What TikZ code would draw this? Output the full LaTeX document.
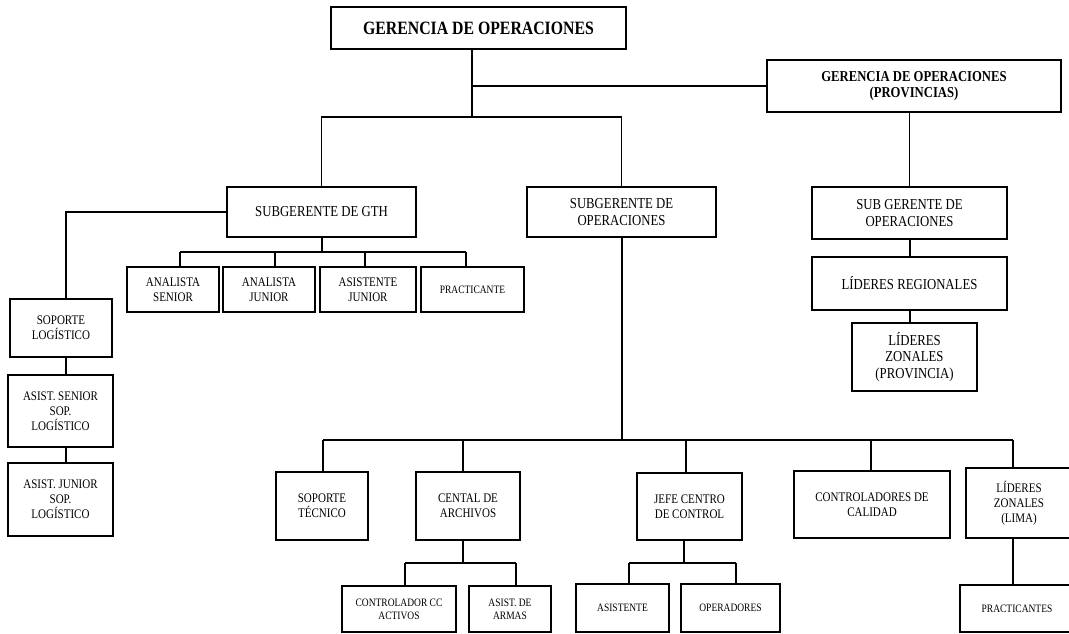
\documentclass[tikz,border=0pt]{standalone}
\usepackage{fontspec}
\setmainfont{Liberation Serif}[FakeStretch=0.84]
\begin{document}
\begin{tikzpicture}[x=1pt, y=-1pt,
  box/.style={draw, line width=1.3pt, align=center, inner sep=1pt},
  fsm/.style={font=\fontsize{11.3}{12.7}\selectfont},
  fmd/.style={font=\fontsize{13.1}{15}\selectfont},
  flg/.style={font=\fontsize{15.2}{16.7}\selectfont},
  fbd/.style={font=\bfseries\fontsize{15.1}{16.7}\selectfont},
  ftitle/.style={font=\bfseries\fontsize{18.8}{21}\selectfont},
  conn/.style={line width=1.1pt},
  trunk/.style={line width=2pt}]
\useasboundingbox (0,0) rectangle (1069,633);
\fill[white] (0,0) rectangle (1069,633);

% top management
\node[box, ftitle, minimum width=295pt, minimum height=42pt] (gop) at (478.5,28) {GERENCIA DE OPERACIONES};
\node[box, fbd, minimum width=294pt, minimum height=52pt] (gopp) at (914,86) {GERENCIA DE OPERACIONES\\(PROVINCIAS)};

% second level
\node[box, flg, minimum width=189pt, minimum height=50pt] (gth) at (321.5,212) {SUBGERENTE DE GTH};
\node[box, flg, minimum width=189pt, minimum height=50pt] (sgo) at (621.5,212) {SUBGERENTE DE\\OPERACIONES};
\node[box, flg, minimum width=195pt, minimum height=52pt] (sgp) at (909.5,213) {SUB GERENTE DE\\OPERACIONES};
\node[box, flg, minimum width=195pt, minimum height=53pt] (lreg) at (909.5,283.5) {LÍDERES REGIONALES};
\node[box, flg, minimum width=125pt, minimum height=68pt] (lzp) at (914.5,357) {LÍDERES\\ZONALES\\(PROVINCIA)};

% GTH team
\node[box, fmd, minimum width=92pt, minimum height=45pt] (as) at (173,289.5) {ANALISTA\\SENIOR};
\node[box, fmd, minimum width=92pt, minimum height=45pt] (aj) at (269,289.5) {ANALISTA\\JUNIOR};
\node[box, fmd, minimum width=96pt, minimum height=45pt] (asj) at (368,289.5) {ASISTENTE\\JUNIOR};
\node[box, fsm, minimum width=103pt, minimum height=45pt] (prac) at (472.5,289.5) {PRACTICANTE};

% logistics column
\node[box, fmd, minimum width=102pt, minimum height=58pt] (sl) at (61,328) {SOPORTE\\LOGÍSTICO};
\node[box, fmd, minimum width=105pt, minimum height=72pt] (ass) at (60.5,411) {ASIST. SENIOR\\SOP.\\LOGÍSTICO};
\node[box, fmd, minimum width=105pt, minimum height=73pt] (asjr) at (60.5,499.5) {ASIST. JUNIOR\\SOP.\\LOGÍSTICO};

% operations areas
\node[box, fmd, minimum width=92pt, minimum height=68pt] (st) at (322,506) {SOPORTE\\TÉCNICO};
\node[box, fmd, minimum width=104pt, minimum height=68pt] (ca) at (468,506) {CENTAL DE\\ARCHIVOS};
\node[box, fmd, minimum width=105pt, minimum height=67pt] (jefe) at (689.5,506.5) {JEFE CENTRO\\DE CONTROL};
\node[box, fmd, minimum width=156pt, minimum height=67pt] (cal) at (872,504.5) {CONTROLADORES DE\\CALIDAD};
\node[box, fmd, minimum width=106pt, minimum height=70pt] (lima) at (1019,503) {LÍDERES\\ZONALES\\(LIMA)};

% bottom row
\node[box, fsm, minimum width=114pt, minimum height=46pt] (cca) at (399,609) {CONTROLADOR CC\\ACTIVOS};
\node[box, fsm, minimum width=82pt, minimum height=46pt] (arm) at (510,609) {ASIST. DE\\ARMAS};
\node[box, fsm, minimum width=93pt, minimum height=48pt] (asis) at (622.5,608) {ASISTENTE};
\node[box, fsm, minimum width=99pt, minimum height=48pt] (oper) at (730.5,608) {OPERADORES};
\node[box, fsm, minimum width=114pt, minimum height=47pt] (pracs) at (1017,608.5) {PRACTICANTES};

% junction points of the connectors
\coordinate (j0) at (472,117);
\coordinate (jp) at (472,86);
\coordinate (lc) at (66,0);
\coordinate (g1) at (180,252);
\coordinate (g2) at (275,252);
\coordinate (g3) at (365,252);
\coordinate (g4) at (466,252);
\coordinate (o1) at (323,440);
\coordinate (o2) at (463,440);
\coordinate (o3) at (686,440);
\coordinate (o4) at (871,440);
\coordinate (o5) at (1013,440);
\coordinate (c1) at (405,563);
\coordinate (c2) at (516,563);
\coordinate (h0) at (684,563);
\coordinate (h1) at (629,563);
\coordinate (h2) at (736,563);
\coordinate (lz) at (1013,538);
\coordinate (pz) at (910,0);

% management links
\draw[conn] (gop.south -| j0) -- (j0);
\draw[conn] (jp) -- (gopp.west);
\draw[conn] (gth.north) -- (gth.north |- j0) -- (sgo.north |- j0) -- (sgo.north);

% GTH branch
\draw[conn] (gth.west) -| (lc |- sl.north);
\draw[conn] (lc |- sl.south) -- (lc |- ass.north);
\draw[conn] (lc |- ass.south) -- (lc |- asjr.north);
\draw[trunk] (gth.south) -- (gth.south |- g1);
\draw[conn] (g1) -- (g4);
\draw[conn] (g1) -- (as.north -| g1);
\draw[conn] (g2) -- (aj.north -| g2);
\draw[conn] (g3) -- (asj.north -| g3);
\draw[conn] (g4) -- (prac.north -| g4);

% operations branch
\draw[trunk] (sgo.south) -- (sgo.south |- o1);
\draw[conn] (o1) -- (o5);
\draw[conn] (o1) -- (st.north -| o1);
\draw[conn] (o2) -- (ca.north -| o2);
\draw[conn] (o3) -- (jefe.north -| o3);
\draw[conn] (o4) -- (cal.north -| o4);
\draw[conn] (o5) -- (lima.north -| o5);

\draw[conn] (ca.south -| o2) -- (o2 |- c1);
\draw[conn] (c1) -- (c2);
\draw[conn] (c1) -- (cca.north -| c1);
\draw[conn] (c2) -- (arm.north -| c2);

\draw[trunk] (jefe.south -| h0) -- (h0);
\draw[conn] (h1) -- (h2);
\draw[conn] (h1) -- (asis.north -| h1);
\draw[conn] (h2) -- (oper.north -| h2);

\draw[conn] (lz) -- (pracs.north -| lz);

% provinces branch
\draw[conn] (gopp.south -| sgp.north) -- (sgp.north);
\draw[conn] (sgp.south -| pz) -- (lreg.north -| pz);
\draw[conn] (lreg.south -| pz) -- (lzp.north -| pz);
\end{tikzpicture}
\end{document}
